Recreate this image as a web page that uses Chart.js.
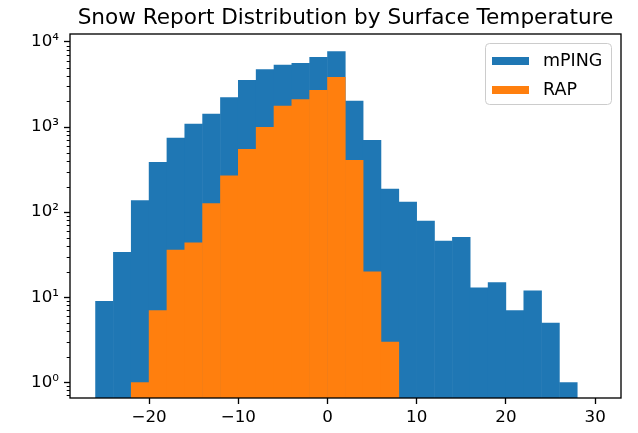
<!DOCTYPE html>
<html>
<head>
<meta charset="utf-8">
<script src="https://cdn.jsdelivr.net/npm/chart.js@4"></script>
<style>
  html, body { margin: 0; padding: 0; background: #fff; }
  #wrap { width: 638px; height: 433px; }
</style>
</head>
<body>
<div id="wrap"><canvas id="myChart" width="638" height="433"></canvas></div>
<script>
// histogram bins: width 2, from -26 to 30 (centers below)
const binCenters = [-25, -23, -21, -19, -17, -15, -13, -11, -9, -7, -5, -3, -1, 1, 3, 5, 7, 9, 11, 13, 15, 17, 19, 21, 23, 25, 27, 29];
const mpingCounts = [9, 34, 138, 387, 748, 1094, 1435, 2235, 3573, 4775, 5410, 5662, 6663, 7783, 2039, 703, 188, 132, 79, 46, 51, 13, 15, 7, 12, 5, 1, 0];
const rapCounts = [0, 0, 1, 7, 36, 44, 127, 270, 551, 1000, 1782, 2118, 2723, 3873, 410, 20, 3, 0, 0, 0, 0, 0, 0, 0, 0, 0, 0, 0];
const xTicks = [-20, -10, 0, 10, 20, 30];
const yTicks = [1, 10, 100, 1000, 10000];
const supDigits = ["⁰", "¹", "²", "³", "⁴", "⁵"];

const FONT = "DejaVu Sans";

function toPoints(counts) {
  const pts = [];
  for (let i = 0; i < binCenters.length; i++) {
    pts.push({ x: binCenters[i], y: counts[i] > 0 ? counts[i] : null });
  }
  return pts;
}

// frame, minor ticks, title and legend drawn like matplotlib
const decorPlugin = {
  id: "decor",
  afterDatasetsDraw(chart) {
    const ctx = chart.ctx;
    const a = chart.chartArea;
    const yScale = chart.scales.y;
    ctx.save();

    // minor ticks on log axis
    ctx.strokeStyle = "#000";
    ctx.lineWidth = 1;
    for (let d = -1; d <= 4; d++) {
      for (let k = 2; k <= 9; k++) {
        const v = k * Math.pow(10, d);
        if (v < yScale.min || v > yScale.max) continue;
        const py = Math.round(yScale.getPixelForValue(v)) + 0.5;
        ctx.beginPath();
        ctx.moveTo(a.left, py);
        ctx.lineTo(a.left - 3.3, py);
        ctx.stroke();
      }
    }

    // axes frame
    ctx.lineWidth = 1.33;
    ctx.strokeRect(a.left, a.top, a.right - a.left, a.bottom - a.top);

    // title
    ctx.fillStyle = "#000";
    ctx.font = "21.6px '" + FONT + "'";
    ctx.textAlign = "center";
    ctx.textBaseline = "alphabetic";
    ctx.fillText("Snow Report Distribution by Surface Temperature", (a.left + a.right) / 2, 24);

    // legend
    const lx = 485.5, ly = 43.5, lw = 126, lh = 61;
    ctx.beginPath();
    ctx.roundRect(lx, ly, lw, lh, 4);
    ctx.fillStyle = "rgba(255,255,255,0.8)";
    ctx.fill();
    ctx.strokeStyle = "#cccccc";
    ctx.lineWidth = 1;
    ctx.stroke();

    const items = [
      { label: "mPING", color: "#1f77b4", y: 57 },
      { label: "RAP", color: "#ff7f0e", y: 86 }
    ];
    ctx.font = "17.5px '" + FONT + "'";
    ctx.textAlign = "left";
    items.forEach(function (it) {
      ctx.fillStyle = it.color;
      ctx.fillRect(492, it.y, 37, 8);
      ctx.fillStyle = "#000";
      ctx.fillText(it.label, 543, it.y + 9);
    });

    ctx.restore();
  }
};

const ctx = document.getElementById("myChart").getContext("2d");
const chart = new Chart(ctx, {
  type: "bar",
  data: {
    datasets: [
      {
        label: "mPING",
        data: toPoints(mpingCounts),
        backgroundColor: "#1f77b4",
        borderWidth: 0,
        order: 1
      },
      {
        label: "RAP",
        data: toPoints(rapCounts),
        backgroundColor: "#ff7f0e",
        borderWidth: 0,
        order: 0
      }
    ]
  },
  options: {
    responsive: false,
    animation: false,
    grouped: false,
    barPercentage: 1.03, // tiny overlap hides anti-aliasing seams
    categoryPercentage: 1,
    layout: { padding: { left: 0, top: 34, right: 17, bottom: 0 } },
    plugins: {
      legend: { display: false },
      title: { display: false },
      tooltip: { enabled: false }
    },
    scales: {
      x: {
        type: "linear",
        offset: false,
        min: -28.86,
        max: 32.9,
        afterBuildTicks: function (scale) {
          scale.ticks = xTicks.map(function (v) { return { value: v }; });
        },
        afterFit: function (scale) { scale.height = 35; },
        border: { display: false },
        grid: {
          display: true,
          offset: false,
          drawOnChartArea: false,
          drawTicks: true,
          tickLength: 6,
          tickColor: "#000",
          tickWidth: 1.33
        },
        ticks: {
          color: "#000",
          padding: 4,
          maxRotation: 0,
          font: { family: FONT, size: 16.7 },
          callback: function (v) { return String(v).replace("-", "\u2212"); }
        }
      },
      y: {
        type: "logarithmic",
        min: 0.653,
        max: 12410,
        afterBuildTicks: function (scale) {
          scale.ticks = yTicks.map(function (v) { return { value: v, major: true }; });
        },
        afterFit: function (scale) { scale.width = 70; },
        border: { display: false },
        grid: {
          display: true,
          drawOnChartArea: false,
          drawTicks: true,
          tickLength: 6,
          tickColor: "#000",
          tickWidth: 1.33
        },
        ticks: {
          color: "#000",
          padding: 5,
          font: { family: FONT, size: 16.7 },
          callback: function (v) {
            const e = Math.round(Math.log10(v));
            return "10" + supDigits[e];
          }
        }
      }
    }
  },
  plugins: [decorPlugin]
});
</script>
</body>
</html>
